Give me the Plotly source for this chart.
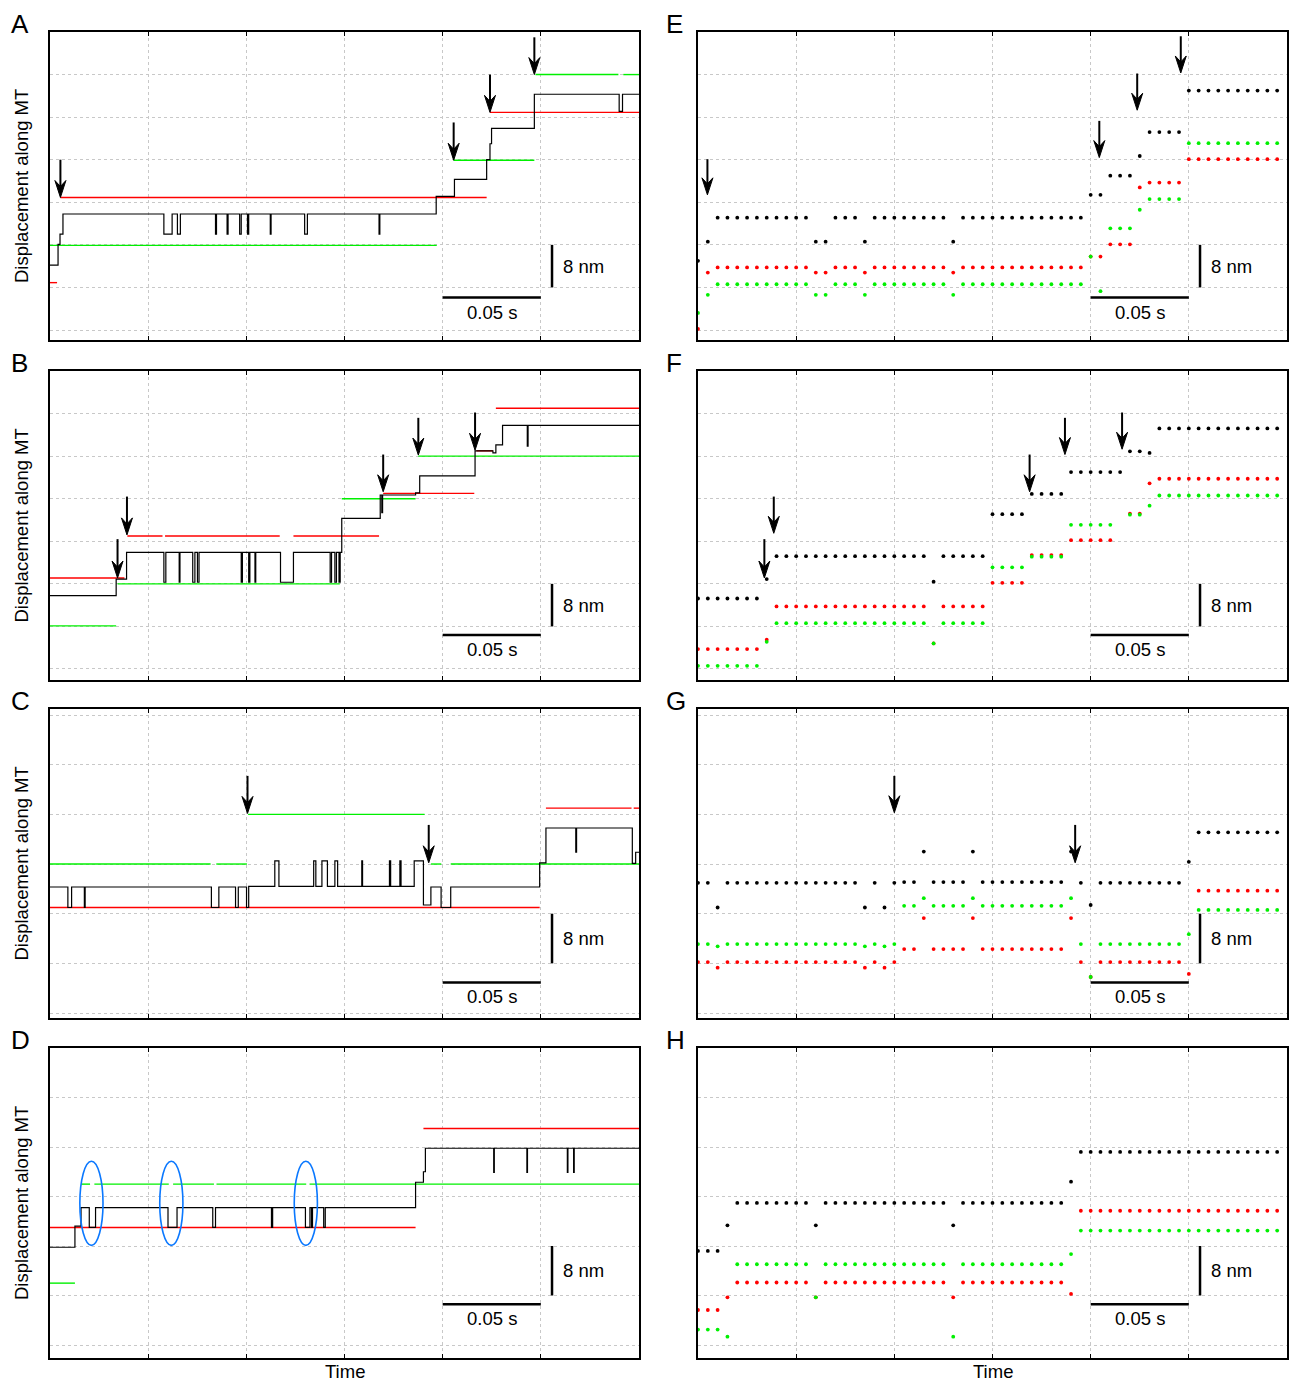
import plotly.graph_objects as go

FIG_W, FIG_H = 1290, 1383
FONT = "Liberation Sans, Arial, Helvetica, sans-serif"

# ---------------- axes / grid ----------------
T_RANGE = [0.0, 0.30]
T_GRID = [0.05, 0.10, 0.15, 0.20, 0.25]
NM_GRID = [0, 8, 16, 24, 32, 40, 48, 56]
SAMPLE_DT = 0.005  # sampling period of the dotted traces (s)

PANEL_COLS = {"L": (50, 639), "R": (698, 1287)}
PANEL_ROWS = [(32, 340), (371, 680), (709, 1018), (1048, 1358)]
ROW_NM_RANGE = [(-1.88, 56.0), (-2.07, 56.0), (-0.80, 48.97), (-2.10, 48.0)]
PANELS = [("A", "L", 0), ("B", "L", 1), ("C", "L", 2), ("D", "L", 3),
          ("E", "R", 0), ("F", "R", 1), ("G", "R", 2), ("H", "R", 3)]

# ---------------- panel A (step trace: (time s, level nm)) ----------------
A_black = [(0.0, 12.2), (0.0041, 16.1), (0.0051, 18.0), (0.0066, 21.8),
           (0.0580, 18.0), (0.0622, 21.8), (0.0649, 18.0), (0.0664, 21.8),
           (0.0843, 18.0), (0.0848, 21.8), (0.0902, 18.0), (0.0907, 21.8),
           (0.0966, 18.0), (0.0974, 21.8), (0.1006, 18.0), (0.1012, 21.8),
           (0.1122, 18.0), (0.1126, 21.8), (0.1297, 18.0), (0.1311, 21.8),
           (0.1676, 18.0), (0.1680, 21.8), (0.1967, 25.1), (0.2060, 28.3),
           (0.2224, 32.0), (0.2241, 35.0), (0.2249, 37.9), (0.2467, 44.3),
           (0.2899, 41.1), (0.2916, 44.3), (0.3000, 44.3)]
A_red = [(0.0, 0.0036, 8.9), (0.0053, 0.2224, 24.9), (0.2241, 0.300, 40.9)]
A_green = [(0.0, 0.1970, 15.9), (0.2056, 0.2467, 31.9), (0.2473, 0.2895, 48.0), (0.2920, 0.300, 48.0)]
A_arrows = [(0.0053, 24.9, 32.0), (0.2056, 31.9, 39.0), (0.2241, 40.9, 48.0), (0.2467, 48.0, 55.0)]

# ---------------- panel B ----------------
B_black = [(0.0, 13.8), (0.0337, 16.9), (0.0390, 21.9),
           (0.0580, 16.3), (0.0590, 21.9), (0.0658, 16.3), (0.0662, 21.9),
           (0.0727, 16.3), (0.0738, 21.9), (0.0751, 16.3), (0.0759, 21.9),
           (0.0974, 16.3), (0.0980, 21.9), (0.1012, 16.3), (0.1018, 21.9),
           (0.1044, 16.3), (0.1048, 21.9), (0.1174, 16.3), (0.1240, 21.9),
           (0.1427, 16.3), (0.1434, 21.9), (0.1451, 16.3), (0.1459, 21.9),
           (0.1472, 16.3), (0.1478, 21.9), (0.1486, 28.3), (0.1682, 32.7),
           (0.1690, 29.4), (0.1694, 32.7), (0.1862, 33.1), (0.1883, 36.3),
           (0.2165, 41.0), (0.2256, 40.6), (0.2271, 42.1), (0.2305, 45.8),
           (0.2431, 41.9), (0.2435, 45.8), (0.3000, 45.8)]
B_red = [(0.0, 0.0379, 17.1), (0.0394, 0.0573, 25.0), (0.0586, 0.1170, 25.0),
         (0.1240, 0.1676, 25.0), (0.1697, 0.2161, 33.0), (0.2172, 0.2256, 41.0),
         (0.2271, 0.300, 49.0)]
B_green = [(0.0, 0.0337, 8.1), (0.0344, 0.1476, 16.0), (0.1486, 0.1862, 32.0), (0.1876, 0.300, 40.0)]
B_arrows = [(0.0344, 17.1, 24.4), (0.0392, 25.2, 32.4), (0.1697, 33.3, 40.3),
            (0.1876, 40.2, 47.2), (0.2165, 41.1, 48.2)]

# ---------------- panel C ----------------
C_black = [(0.0, 20.3), (0.0091, 17.0), (0.0110, 20.3), (0.0175, 17.0), (0.0179, 20.3),
           (0.0822, 17.0), (0.0860, 20.3), (0.0945, 17.0), (0.0959, 20.3),
           (0.1001, 17.0), (0.1012, 20.4), (0.1145, 24.5), (0.1166, 20.4),
           (0.1343, 24.5), (0.1354, 20.4), (0.1385, 24.5), (0.1413, 20.4),
           (0.1451, 24.5), (0.1465, 20.4), (0.1588, 24.5), (0.1592, 20.4),
           (0.1729, 24.5), (0.1735, 20.4), (0.1782, 24.5), (0.1788, 20.4),
           (0.1855, 24.5), (0.1902, 17.4), (0.1940, 20.3), (0.1992, 17.0),
           (0.2041, 20.3), (0.2494, 24.2), (0.2526, 29.8), (0.2678, 25.9),
           (0.2682, 29.8), (0.2966, 24.1), (0.2983, 25.9), (0.3000, 25.9)]
C_red = [(0.0, 0.2494, 17.0), (0.2526, 0.2962, 33.0), (0.2973, 0.300, 33.0)]
C_green = [(0.0, 0.0818, 24.0), (0.0847, 0.1003, 24.0), (0.1009, 0.1908, 32.0),
           (0.1940, 0.1993, 24.0), (0.2041, 0.300, 24.0)]
C_arrows = [(0.1006, 32.15, 38.2), (0.1929, 24.2, 30.3)]

# ---------------- panel D ----------------
D_black = [(0.0, 15.8), (0.0127, 19.2), (0.0158, 22.2), (0.0200, 19.0), (0.0232, 22.2),
           (0.0601, 19.0), (0.0647, 22.2), (0.0829, 19.0), (0.0843, 22.2),
           (0.1128, 19.0), (0.1134, 22.2), (0.1301, 19.0), (0.1324, 22.2),
           (0.1332, 19.0), (0.1337, 22.2), (0.1394, 19.0), (0.1402, 22.2),
           (0.1862, 26.3), (0.1902, 28.0), (0.1912, 31.8), (0.2260, 27.9),
           (0.2263, 31.8), (0.2429, 27.9), (0.2432, 31.8), (0.2635, 27.9),
           (0.2638, 31.8), (0.2667, 27.9), (0.2670, 31.8), (0.3000, 31.8)]
D_red = [(0.0, 0.1862, 19.0), (0.1902, 0.300, 35.0)]
D_green = [(0.0, 0.0127, 10.0), (0.0158, 0.0204, 26.0), (0.0226, 0.0605, 26.0),
           (0.0627, 0.0835, 26.0), (0.0848, 0.1305, 26.0), (0.1322, 0.300, 26.0)]
D_ellipse_centers = [(0.0211, 22.9), (0.0618, 22.9), (0.1303, 22.9)]
D_ellipse_half = (0.0059, 6.8)  # half width (s), half height (nm)

# ---------------- dotted panels: runs of (first sample, last sample, nm) ----------------
E_black = [(0, 0, 13.0), (1, 1, 16.6), (2, 11, 21.1), (12, 13, 16.6), (14, 16, 21.1),
           (17, 17, 16.6), (18, 25, 21.1), (26, 26, 16.6), (27, 39, 21.1), (40, 41, 25.4),
           (42, 44, 29.0), (45, 45, 32.7), (46, 49, 37.2), (50, 59, 45.0)]
E_red = [(0, 0, 0.2), (1, 1, 10.8), (2, 11, 11.75), (12, 13, 10.8), (14, 16, 11.75),
         (17, 17, 10.8), (18, 25, 11.75), (26, 26, 10.8), (27, 39, 11.75), (40, 41, 13.8),
         (42, 44, 16.1), (45, 45, 26.8), (46, 49, 27.7), (50, 59, 32.1)]
E_green = [(0, 0, 3.2), (1, 1, 6.6), (2, 11, 8.6), (12, 13, 6.6), (14, 16, 8.6),
           (17, 17, 6.6), (18, 25, 8.6), (26, 26, 6.6), (27, 39, 8.6), (40, 40, 13.8),
           (41, 41, 7.3), (42, 44, 19.1), (45, 45, 22.6), (46, 49, 24.6), (50, 59, 35.1)]
E_arrows = [(0.0048, 25.4, 32.1), (0.2044, 32.4, 39.3), (0.2237, 41.3, 48.2), (0.2459, 48.3, 55.2)]

F_black = [(0, 6, 13.25), (7, 7, 16.9), (8, 23, 21.2), (24, 24, 16.4), (25, 29, 21.2),
           (30, 33, 29.1), (34, 37, 32.9), (38, 43, 37.0), (44, 45, 40.9), (46, 46, 40.6),
           (47, 59, 45.2)]
F_red = [(0, 6, 3.75), (7, 7, 5.5), (8, 23, 11.75), (24, 24, 4.8), (25, 29, 11.75),
         (30, 33, 16.2), (34, 37, 21.4), (38, 42, 24.2), (44, 45, 29.2), (46, 46, 34.9),
         (47, 59, 35.75)]
F_green = [(0, 6, 0.6), (7, 7, 5.1), (8, 23, 8.6), (24, 24, 4.8), (25, 29, 8.6),
           (30, 33, 19.1), (34, 37, 21.1), (38, 42, 27.1), (44, 45, 29.0), (46, 46, 30.7),
           (47, 59, 32.6)]
F_arrows = [(0.0338, 17.1, 24.4), (0.0386, 25.5, 32.4), (0.1689, 33.3, 40.3),
            (0.1869, 40.3, 47.2), (0.2160, 41.3, 48.2)]

G_black = [(0, 1, 20.97), (2, 2, 17.0), (3, 16, 20.97), (17, 17, 17.0), (18, 18, 20.97),
           (19, 19, 17.0), (20, 20, 20.97), (21, 22, 21.1), (23, 23, 26.0), (24, 27, 21.1),
           (28, 28, 26.0), (29, 37, 21.1), (38, 38, 26.0), (39, 39, 20.97), (40, 40, 17.4),
           (41, 49, 20.97), (50, 50, 24.35), (51, 59, 29.1)]
G_red = [(0, 1, 8.2), (2, 2, 7.3), (3, 16, 8.2), (17, 17, 7.3), (18, 18, 8.2),
         (19, 19, 7.3), (20, 20, 8.2), (21, 22, 10.3), (23, 23, 15.3), (24, 27, 10.3),
         (28, 28, 15.3), (29, 37, 10.3), (38, 38, 15.3), (39, 39, 8.2), (40, 40, 5.8),
         (41, 49, 8.2), (50, 50, 6.3), (51, 59, 19.7)]
G_green = [(0, 1, 11.1), (2, 2, 10.75), (3, 16, 11.1), (17, 17, 10.75), (18, 18, 11.1),
           (19, 19, 10.75), (20, 20, 11.1), (21, 22, 17.26), (23, 23, 18.5), (24, 27, 17.26),
           (28, 28, 18.5), (29, 37, 17.26), (38, 38, 18.5), (39, 39, 11.1), (40, 40, 5.8),
           (41, 49, 11.1), (50, 50, 12.7), (51, 59, 16.6)]
G_arrows = [(0.1000, 32.26, 38.2), (0.1921, 24.2, 30.3)]

H_black = [(0, 2, 15.2), (3, 3, 19.35), (4, 11, 22.96), (12, 12, 19.35), (13, 25, 22.96),
           (26, 26, 19.35), (27, 37, 22.96), (38, 38, 26.4), (39, 59, 31.2)]
H_red = [(0, 2, 5.66), (3, 3, 7.7), (4, 11, 10.1), (12, 12, 7.7), (13, 25, 10.1),
         (26, 26, 7.7), (27, 37, 10.1), (38, 38, 8.25), (39, 59, 21.7)]
H_green = [(0, 2, 2.5), (3, 3, 1.35), (4, 11, 13.05), (12, 12, 7.7), (13, 25, 13.05),
           (26, 26, 1.35), (27, 37, 13.05), (38, 38, 14.7), (39, 59, 18.5)]
H_arrows = []

# ---------------- scale bars (per row) ----------------
SB_T = (0.20, 0.25)
SB_H_NM = [6.1, 6.4, 4.9, 6.6]
SB_TEXT_NM = [3.3, 3.6, 2.6, 4.3]
SB_V_T = 0.2557
SB_V_NM = (8.0, 16.0)
SB_V_TEXT_T = 0.2605
SB_V_TEXT_NM = 12.0

RED, GREEN, BLACK = "#ff0000", "#00f000", "#000000"
ELLIPSE_BLUE = "#0a78ff"

LEFT = {"A": (A_black, A_red, A_green, A_arrows), "B": (B_black, B_red, B_green, B_arrows),
        "C": (C_black, C_red, C_green, C_arrows), "D": (D_black, D_red, D_green, [])}
RIGHT = {"E": (E_black, E_red, E_green, E_arrows), "F": (F_black, F_red, F_green, F_arrows),
         "G": (G_black, G_red, G_green, G_arrows), "H": (H_black, H_red, H_green, H_arrows)}


def seg_xy(segs):
    xs, ys = [], []
    for t0, t1, y in segs:
        xs += [t0, t1, None]
        ys += [y, y, None]
    return xs, ys


def expand(runs):
    xs, ys = [], []
    for k0, k1, y in runs:
        for k in range(k0, k1 + 1):
            xs.append(k * SAMPLE_DT)
            ys.append(y)
    return xs, ys


def px(x_px, y_px):
    return x_px / FIG_W, 1 - y_px / FIG_H


fig = go.Figure()
shapes, annotations, layout_axes = [], [], {}

for i, (letter, col, row) in enumerate(PANELS, start=1):
    sfx = "" if i == 1 else str(i)
    xr, yr = "x" + sfx, "y" + sfx
    left, right = PANEL_COLS[col]
    top, bot = PANEL_ROWS[row]
    y0r, y1r = ROW_NM_RANGE[row]
    layout_axes["xaxis" + sfx] = dict(
        domain=[left / FIG_W, right / FIG_W], range=T_RANGE, anchor=yr,
        tickvals=T_GRID, showticklabels=False, ticks="inside", ticklen=4, tickwidth=1,
        tickcolor="black", showgrid=True, gridcolor="#c8c8c8", griddash="dot", gridwidth=1,
        showline=True, linecolor="black", linewidth=2, mirror="ticks", zeroline=False)
    layout_axes["yaxis" + sfx] = dict(
        domain=[1 - bot / FIG_H, 1 - top / FIG_H], range=[y0r, y1r], anchor=xr,
        tickvals=NM_GRID, showticklabels=False, ticks="", showgrid=True,
        gridcolor="#c8c8c8", griddash="dot", gridwidth=1,
        showline=True, linecolor="black", linewidth=2, mirror=True, zeroline=False)

    s_per_px = (T_RANGE[1] - T_RANGE[0]) / (right - left)
    nm_per_px = (y1r - y0r) / (bot - top)

    if col == "L":
        black, red, green, arrows = LEFT[letter]
        xs, ys = seg_xy(red)
        fig.add_trace(go.Scatter(x=xs, y=ys, xaxis=xr, yaxis=yr, mode="lines",
                                 line=dict(color=RED, width=1.4), hoverinfo="skip"))
        xs, ys = seg_xy(green)
        fig.add_trace(go.Scatter(x=xs, y=ys, xaxis=xr, yaxis=yr, mode="lines",
                                 line=dict(color=GREEN, width=1.4), hoverinfo="skip"))
        fig.add_trace(go.Scatter(x=[p[0] for p in black], y=[p[1] for p in black],
                                 xaxis=xr, yaxis=yr, mode="lines", line_shape="hv",
                                 line=dict(color=BLACK, width=1.2), hoverinfo="skip"))
    else:
        black, red, green, arrows = RIGHT[letter]
        for runs, colr in ((black, BLACK), (red, RED), (green, GREEN)):
            xs, ys = expand(runs)
            fig.add_trace(go.Scatter(x=xs, y=ys, xaxis=xr, yaxis=yr, mode="markers",
                                     marker=dict(color=colr, size=3.8, line=dict(width=0)),
                                     hoverinfo="skip"))

    # arrows
    hw, hl, hn = 5.5 * s_per_px, 17.0 * nm_per_px, 11.0 * nm_per_px
    for t, tip, topnm in arrows:
        shapes.append(dict(type="line", xref=xr, yref=yr, x0=t, x1=t, y0=tip + hn, y1=topnm,
                           line=dict(color="black", width=2)))
        shapes.append(dict(type="path", xref=xr, yref=yr,
                           path=f"M{t},{tip} L{t - hw},{tip + hl} L{t},{tip + hn} L{t + hw},{tip + hl} Z",
                           fillcolor="black", line=dict(color="black", width=1)))

    # ellipses (panel D)
    if letter == "D":
        hx, hy = D_ellipse_half
        for tc, yc in D_ellipse_centers:
            shapes.append(dict(type="circle", xref=xr, yref=yr, x0=tc - hx, x1=tc + hx,
                               y0=yc - hy, y1=yc + hy, line=dict(color=ELLIPSE_BLUE, width=1.6)))

    # scale bars
    shapes.append(dict(type="line", xref=xr, yref=yr, x0=SB_T[0], x1=SB_T[1],
                       y0=SB_H_NM[row], y1=SB_H_NM[row], line=dict(color="black", width=2.5)))
    shapes.append(dict(type="line", xref=xr, yref=yr, x0=SB_V_T, x1=SB_V_T,
                       y0=SB_V_NM[0], y1=SB_V_NM[1], line=dict(color="black", width=2.5)))
    annotations.append(dict(xref=xr, yref=yr, x=(SB_T[0] + SB_T[1]) / 2, y=SB_TEXT_NM[row],
                            text="0.05 s", showarrow=False, xanchor="center", yanchor="middle",
                            font=dict(family=FONT, size=18.5, color="black")))
    annotations.append(dict(xref=xr, yref=yr, x=SB_V_TEXT_T, y=SB_V_TEXT_NM,
                            text="8 nm", showarrow=False, xanchor="left", yanchor="middle",
                            font=dict(family=FONT, size=18.5, color="black")))

    # panel letter
    lx = 9 if col == "L" else 664
    ax_, ay_ = px(lx, top - 8)
    annotations.append(dict(xref="paper", yref="paper", x=ax_, y=ay_, text=letter,
                            showarrow=False, xanchor="left", yanchor="middle",
                            font=dict(family=FONT, size=26, color="black")))
    # y label
    if col == "L":
        ax_, ay_ = px(21, (top + bot) / 2)
        annotations.append(dict(xref="paper", yref="paper", x=ax_, y=ay_,
                                text="Displacement along MT", textangle=-90, showarrow=False,
                                xanchor="center", yanchor="middle",
                                font=dict(family=FONT, size=18.5, color="black")))
    if row == 3:
        ax_, ay_ = px((left + right) / 2, 1371)
        annotations.append(dict(xref="paper", yref="paper", x=ax_, y=ay_, text="Time",
                                showarrow=False, xanchor="center", yanchor="middle",
                                font=dict(family=FONT, size=18.5, color="black")))

fig.update_layout(width=FIG_W, height=FIG_H, margin=dict(l=0, r=0, t=0, b=0),
                  paper_bgcolor="white", plot_bgcolor="white", showlegend=False,
                  shapes=shapes, annotations=annotations, **layout_axes)

fig.write_html("out.html", config={"displayModeBar": False},
               post_script="document.body.style.margin='0';")
